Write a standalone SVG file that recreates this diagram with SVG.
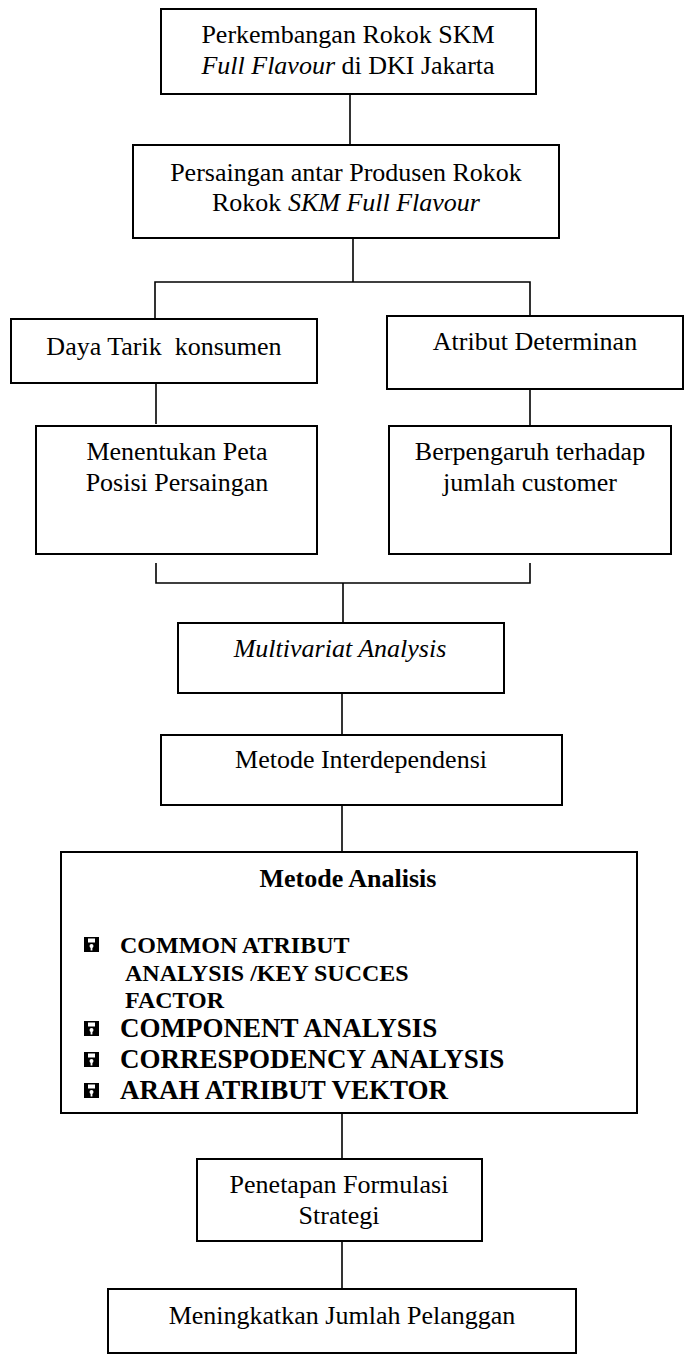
<svg xmlns="http://www.w3.org/2000/svg" width="685" height="1360" viewBox="0 0 685 1360">
<style>
.box{fill:#fff;stroke:#000;stroke-width:2}
.ln{fill:none;stroke:#000;stroke-width:1.6}
text{font-family:'Liberation Serif','Times New Roman',serif;fill:#000}
.t{font-size:26px;text-anchor:middle}
.b{font-size:24px;font-weight:bold}
.bl{font-size:27px;font-weight:bold}
.i{font-style:italic}
</style>
<defs>
<g id="bul">
<rect x="0" y="0" width="15" height="15" fill="#000"/>
<rect x="4" y="1.5" width="7" height="4" fill="#fff"/>
<circle cx="7.5" cy="9" r="2" fill="#fff"/>
<rect x="6.6" y="9" width="1.8" height="4.5" fill="#fff"/>
</g>
</defs>
<rect width="685" height="1360" fill="#fff"/>
<g id="connectors">
<line class="ln" x1="350" y1="94" x2="350" y2="145"/>
<line class="ln" x1="353" y1="238" x2="353" y2="282"/>
<polyline class="ln" points="155,324 155,282 530,282 530,318"/>
<line class="ln" x1="156" y1="378" x2="156" y2="424"/>
<line class="ln" x1="530" y1="385" x2="530" y2="428"/>
<polyline class="ln" points="156,563 156,583 530,583 530,563"/>
<line class="ln" x1="343" y1="583" x2="343" y2="623"/>
<line class="ln" x1="342" y1="693" x2="342" y2="735"/>
<line class="ln" x1="342" y1="805" x2="342" y2="852"/>
<line class="ln" x1="342" y1="1113" x2="342" y2="1159"/>
<line class="ln" x1="342" y1="1241" x2="342" y2="1289"/>
</g>
<g id="n1">
<rect class="box" x="161" y="9" width="375" height="85"/>
<text class="t" x="348" y="43">Perkembangan Rokok SKM</text>
<text class="t" x="348" y="74"><tspan class="i">Full Flavour</tspan> di DKI Jakarta</text>
</g>
<g id="n2">
<rect class="box" x="133" y="145" width="426" height="93"/>
<text class="t" x="346" y="181">Persaingan antar Produsen Rokok</text>
<text class="t" x="346" y="211">Rokok <tspan class="i">SKM Full Flavour</tspan></text>
</g>
<g id="n3">
<rect class="box" x="11" y="319" width="306" height="64"/>
<text class="t" x="164" y="355" xml:space="preserve">Daya Tarik  konsumen</text>
</g>
<g id="n4">
<rect class="box" x="387" y="316" width="296" height="73"/>
<text class="t" x="535" y="350">Atribut Determinan</text>
</g>
<g id="n5">
<rect class="box" x="36" y="426" width="281" height="128"/>
<text class="t" x="177" y="460">Menentukan Peta</text>
<text class="t" x="177" y="491">Posisi Persaingan</text>
</g>
<g id="n6">
<rect class="box" x="389" y="426" width="282" height="128"/>
<text class="t" x="530" y="460">Berpengaruh terhadap</text>
<text class="t" x="530" y="491">jumlah customer</text>
</g>
<g id="n7">
<rect class="box" x="178" y="623" width="326" height="70"/>
<text class="t i" x="340" y="657">Multivariat Analysis</text>
</g>
<g id="n8">
<rect class="box" x="161" y="735" width="401" height="70"/>
<text class="t" x="361" y="768">Metode Interdependensi</text>
</g>
<g id="n9">
<rect class="box" x="61" y="852" width="576" height="261"/>
<text class="t" x="348" y="887" font-weight="bold">Metode Analisis</text>
<use href="#bul" x="84" y="937"/>
<text class="b" x="120" y="953">COMMON ATRIBUT</text>
<text class="b" x="125" y="981">ANALYSIS /KEY SUCCES</text>
<text class="b" x="125" y="1008">FACTOR</text>
<use href="#bul" x="84" y="1021"/>
<text class="bl" x="120" y="1037">COMPONENT ANALYSIS</text>
<use href="#bul" x="84" y="1052"/>
<text class="bl" x="120" y="1068">CORRESPODENCY ANALYSIS</text>
<use href="#bul" x="84" y="1083"/>
<text class="bl" x="120" y="1099">ARAH ATRIBUT VEKTOR</text>
</g>
<g id="n10">
<rect class="box" x="197" y="1159" width="285" height="82"/>
<text class="t" x="339" y="1193">Penetapan Formulasi</text>
<text class="t" x="339" y="1224">Strategi</text>
</g>
<g id="n11">
<rect class="box" x="108" y="1289" width="468" height="64"/>
<text class="t" x="342" y="1324">Meningkatkan Jumlah Pelanggan</text>
</g>
</svg>
